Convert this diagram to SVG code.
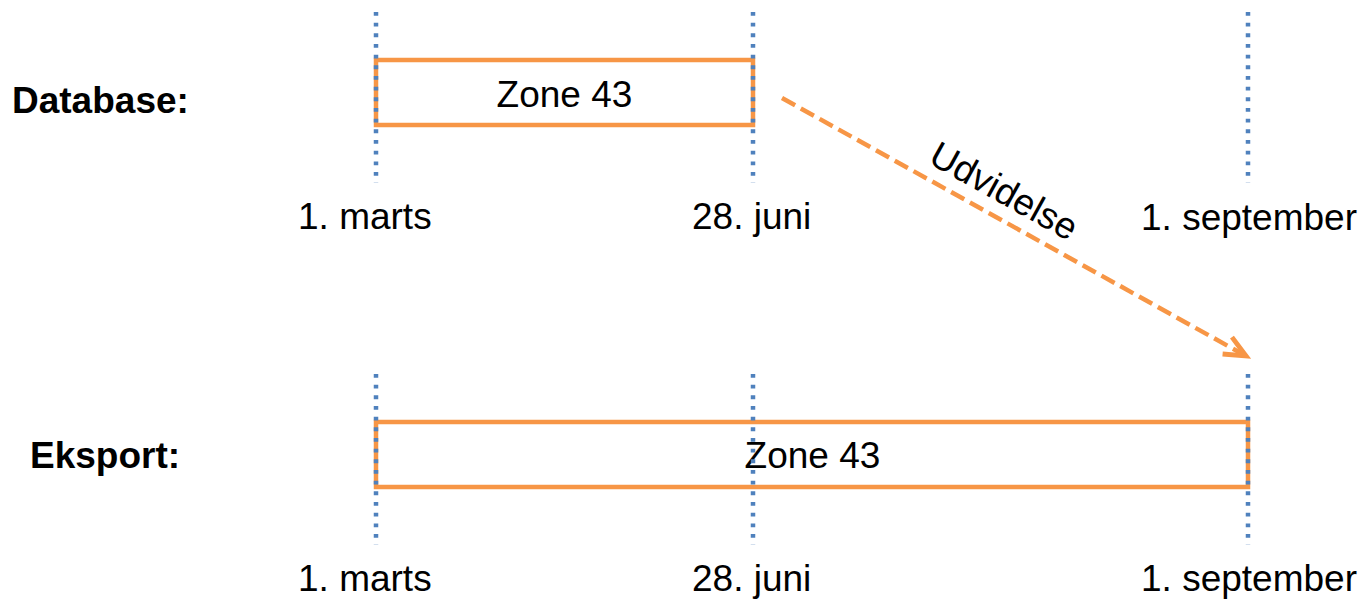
<svg xmlns="http://www.w3.org/2000/svg" width="1365" height="603" viewBox="0 0 1365 603">
  <style>
    .lbl { font-family: "Liberation Sans", Arial, sans-serif; font-size: 37px; fill: #000; }
    .bold { font-weight: bold; }
    .zone { fill: #fff; stroke: #F79646; stroke-width: 4.5; }
    .grid { stroke: #4F81BD; stroke-width: 4.5; stroke-dasharray: 3.8 6.87; fill: none; }
    .conn { stroke: #F79646; stroke-width: 4.5; stroke-dasharray: 15 6.5; fill: none; }
  </style>
  <defs>
    <marker id="arrow" markerUnits="userSpaceOnUse" markerWidth="30" markerHeight="30" viewBox="-24 -12 28 24" refX="0" refY="0" orient="auto" overflow="visible">
      <path d="M -20 -9 L 0 0 L -20 9" fill="none" stroke="#F79646" stroke-width="4.5" stroke-linejoin="miter"/>
    </marker>
  </defs>
  <rect width="1365" height="603" fill="#fff"/>

  <g id="row-database">
    <text class="lbl bold" x="12" y="113">Database:</text>
  </g>
  <g id="row-eksport">
    <text class="lbl bold" x="30" y="468">Eksport:</text>
  </g>

  <g id="zone-database">
    <rect class="zone" x="376" y="60" width="377" height="65"/>
    <text class="lbl" x="564.5" y="107" text-anchor="middle">Zone 43</text>
  </g>
  <g id="zone-eksport">
    <rect class="zone" x="376" y="422" width="872" height="65"/>
    <text class="lbl" x="812.5" y="468" text-anchor="middle">Zone 43</text>
  </g>

  <g id="gridlines">
    <line class="grid" x1="376" y1="12" x2="376" y2="183"/>
    <line class="grid" x1="753" y1="12" x2="753" y2="183"/>
    <line class="grid" x1="1248" y1="12" x2="1248" y2="183"/>
    <line class="grid" x1="376" y1="374" x2="376" y2="545"/>
    <line class="grid" x1="753" y1="374" x2="753" y2="545"/>
    <line class="grid" x1="1248" y1="374" x2="1248" y2="545"/>
  </g>

  <g id="dates-database">
    <text class="lbl" x="298" y="229">1. marts</text>
    <text class="lbl" x="692" y="229">28. juni</text>
    <text class="lbl" x="1141" y="230">1. september</text>
  </g>
  <g id="dates-eksport">
    <text class="lbl" x="298" y="591">1. marts</text>
    <text class="lbl" x="692" y="591">28. juni</text>
    <text class="lbl" x="1141" y="591">1. september</text>
  </g>

  <g id="connectors">
    <line class="conn" x1="782" y1="98" x2="1246" y2="356" marker-end="url(#arrow)"/>
    <text class="lbl" x="998" y="202" text-anchor="middle" transform="rotate(29.06 998 202)">Udvidelse</text>
  </g>
</svg>
